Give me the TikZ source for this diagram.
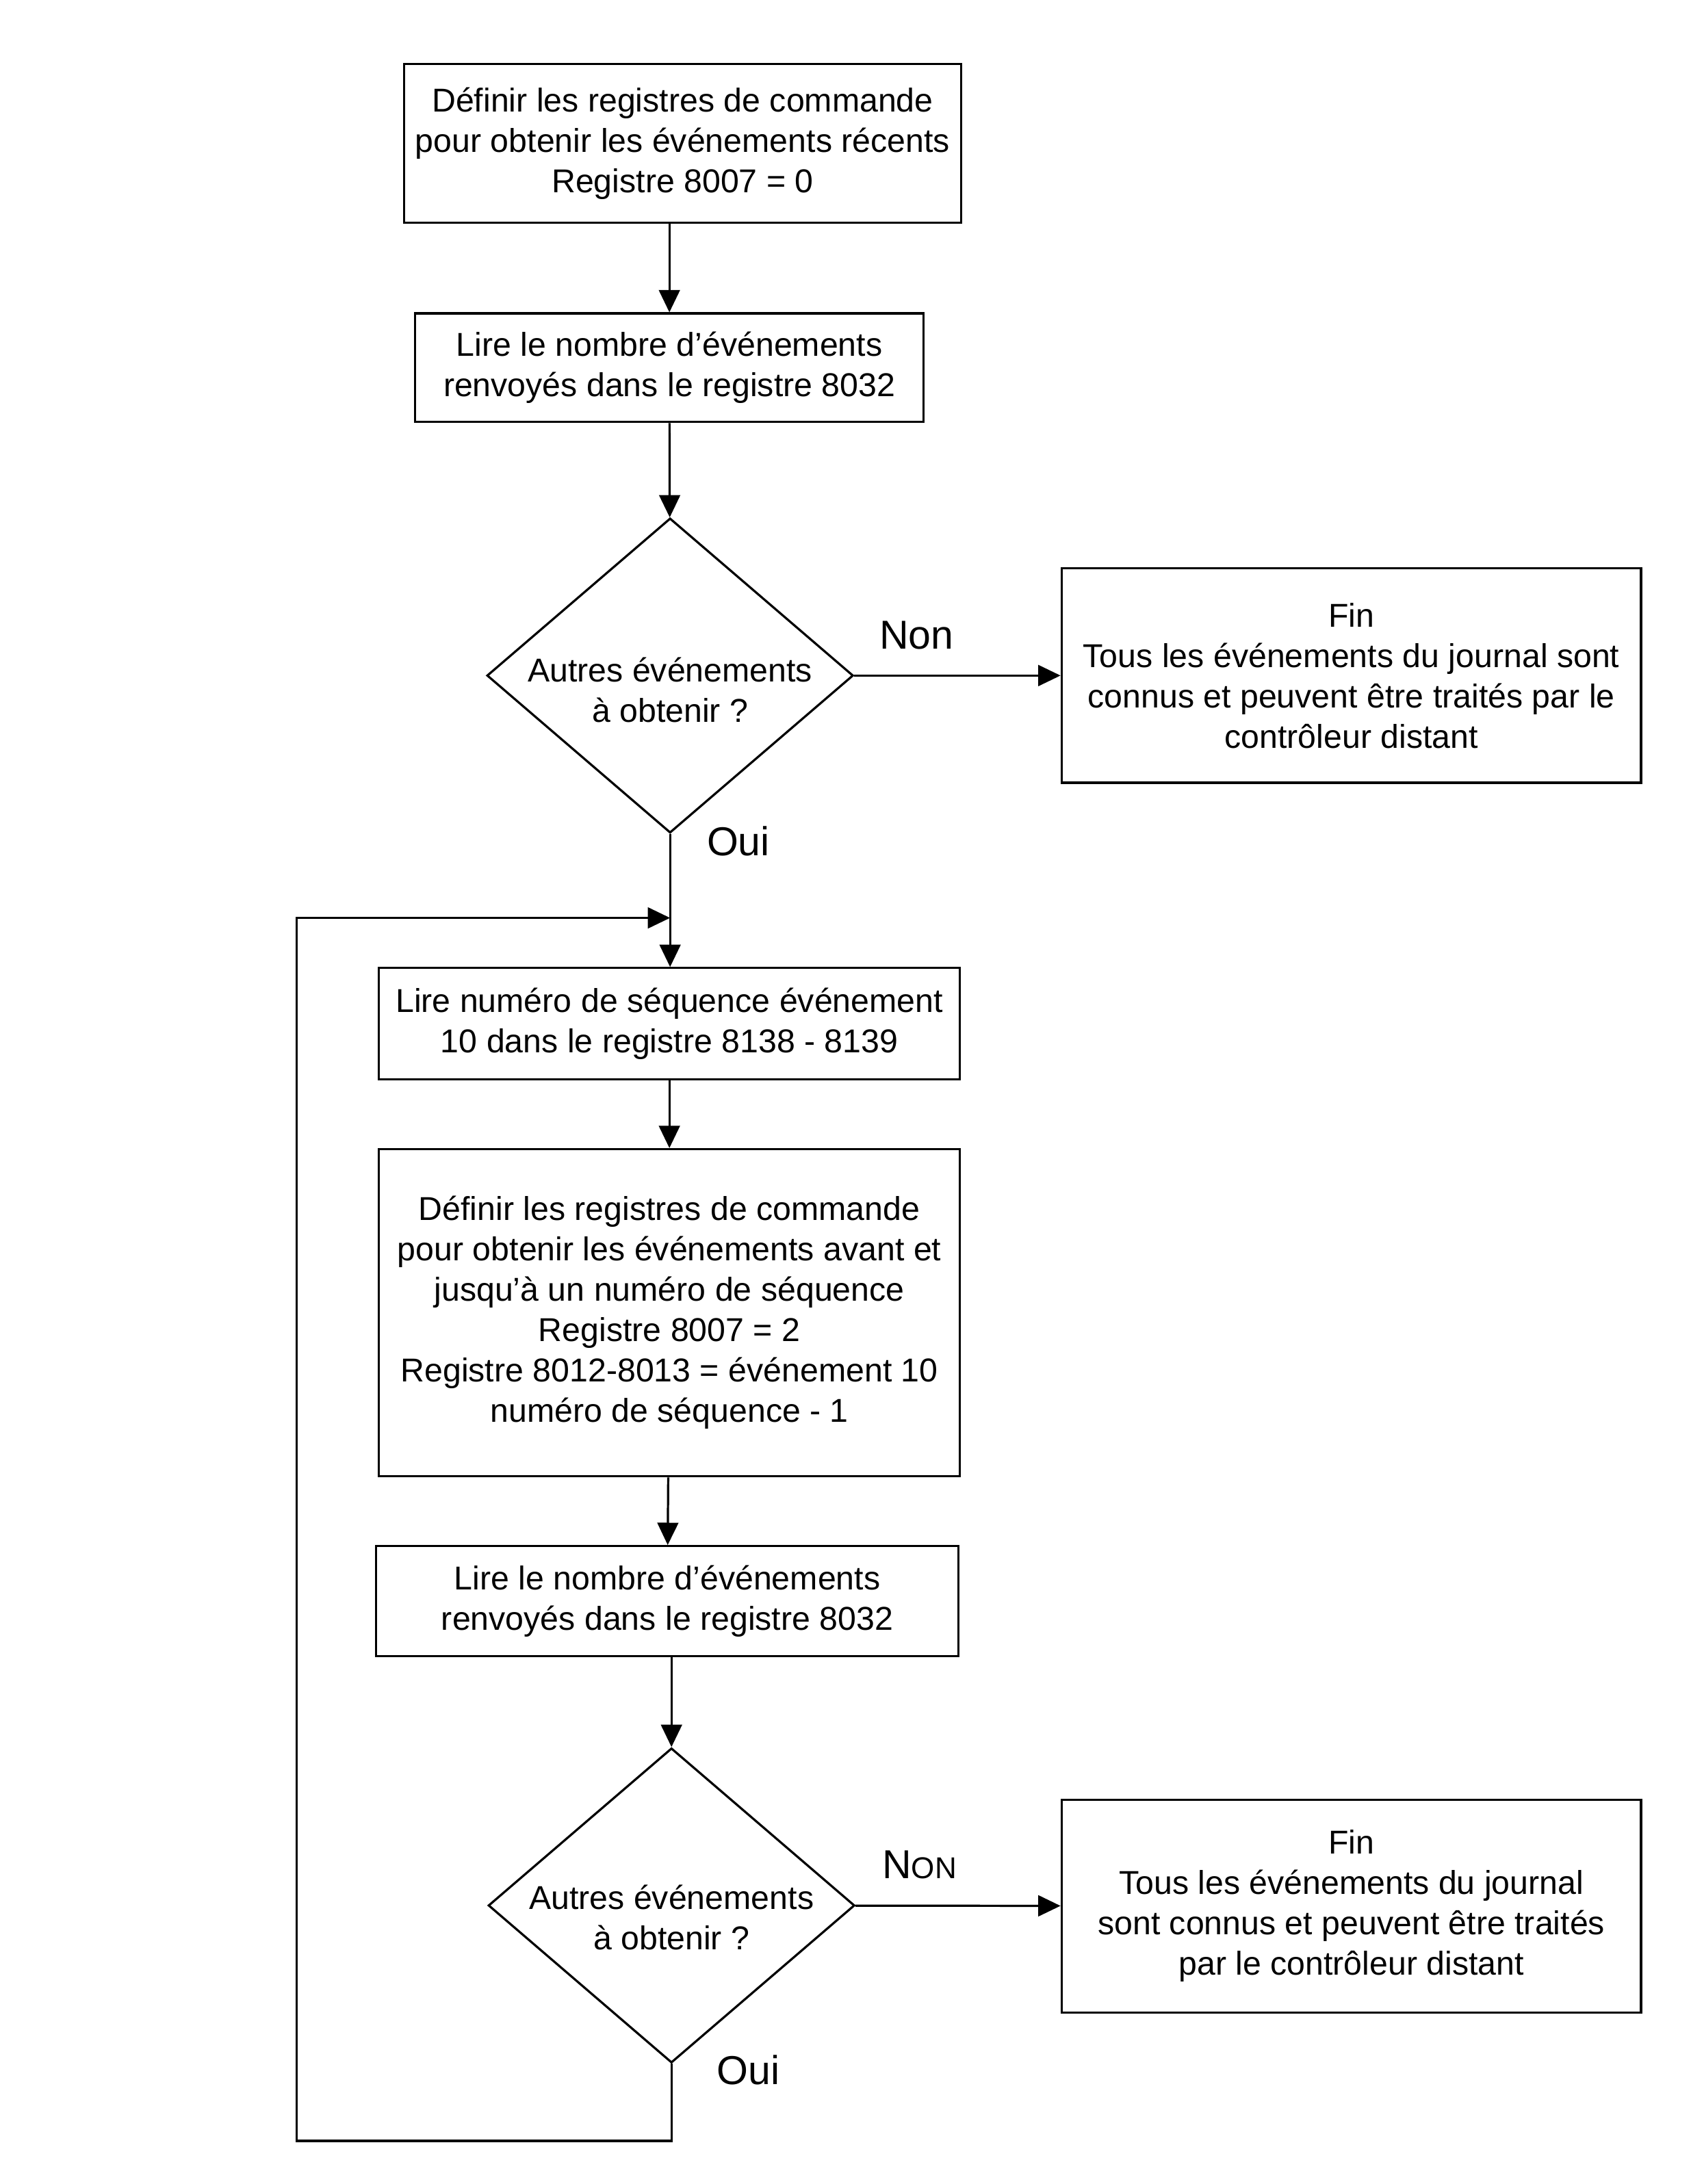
\documentclass[tikz,border=0pt]{standalone}
\usepackage{fontspec}
\setmainfont{Liberation Sans}
\usepackage{tikz}
\usetikzlibrary{arrows.meta,shapes.geometric}

\begin{document}
\begin{tikzpicture}[x=0.02cm, y=-0.02cm,
  box/.style={draw, line width=0.9pt, align=center, font=\fontsize{13.5}{16.5}\selectfont, inner sep=2pt},
  dec/.style={draw, diamond, line width=0.9pt, align=center, inner sep=-3mm, shape aspect=1.164,
    minimum width=5.26cm, minimum height=4.52cm, font=\fontsize{13.5}{16.5}\selectfont},
  lbl/.style={font=\fontsize{16.5}{18}\selectfont, inner sep=0pt},
  every path/.style={line width=0.9pt, -{Triangle[length=3.2mm, width=3mm]}}]

  \useasboundingbox (0,0) rectangle (1223,1568);

  % Recent events
  \node[box, minimum width=8cm, minimum height=2.28cm] (def1) at (490,103)
    {Définir les registres de commande\\pour obtenir les événements récents\\Registre 8007 = 0};
  \node[box, minimum width=7.3cm, minimum height=1.56cm] (cnt1) at (480.5,264)
    {Lire le nombre d’événements\\renvoyés dans le registre 8032};
  \node[dec] (more1) at (481,485) {\rule{0pt}{22pt}Autres événements\\à obtenir ?};
  \node[box, minimum width=8.32cm, minimum height=3.08cm] (end1) at (970,485)
    {Fin\\Tous les événements du journal sont\\connus et peuvent être traités par le\\contrôleur distant};

  % Older events (loop)
  \coordinate (join) at (481,659);
  \node[box, minimum width=8.34cm, minimum height=1.6cm] (seq) at (480.5,735)
    {Lire numéro de séquence événement\\10 dans le registre 8138 - 8139};
  \node[box, minimum width=8.34cm, minimum height=4.7cm] (def2) at (480.5,942.5)
    {Définir les registres de commande\\pour obtenir les événements avant et\\jusqu’à un numéro de séquence\\Registre 8007 = 2\\Registre 8012-8013 = événement 10\\numéro de séquence - 1};
  \node[box, minimum width=8.36cm, minimum height=1.58cm] (cnt2) at (479,1149.5)
    {Lire le nombre d’événements\\renvoyés dans le registre 8032};
  \node[dec] (more2) at (482,1368) {\rule{0pt}{20pt}Autres événements\\à obtenir ?};
  \node[box, minimum width=8.32cm, minimum height=3.06cm] (end2) at (970,1368.5)
    {Fin\\Tous les événements du journal\\sont connus et peuvent être traités\\par le contrôleur distant};
  \coordinate (back) at (213,1537);

  % Labels
  \node[lbl] (no1) at (658,456) {Non};
  \node[lbl] (yes1) at (530,604) {Oui};
  \node[lbl] (no2) at (660,1339) {N{\fontsize{12.3}{14}\selectfont ON}};
  \node[lbl] (yes2) at (537,1486) {Oui};

  % Connecting edges
  \draw (def1.south -| cnt1.north) -- (cnt1.north);
  \draw (cnt1) -- (more1);
  \draw (more1) -- (end1);
  \draw (more1.south) -- (more1.south |- seq.north);
  \draw (seq) -- (def2);
  \draw (def2) -- (cnt2);
  \draw (cnt2.south -| more2.north) -- (more2.north);
  \draw (more2) -- (end2);
  \draw (more2.south) |- (back) |- (join);

\end{tikzpicture}
\end{document}
